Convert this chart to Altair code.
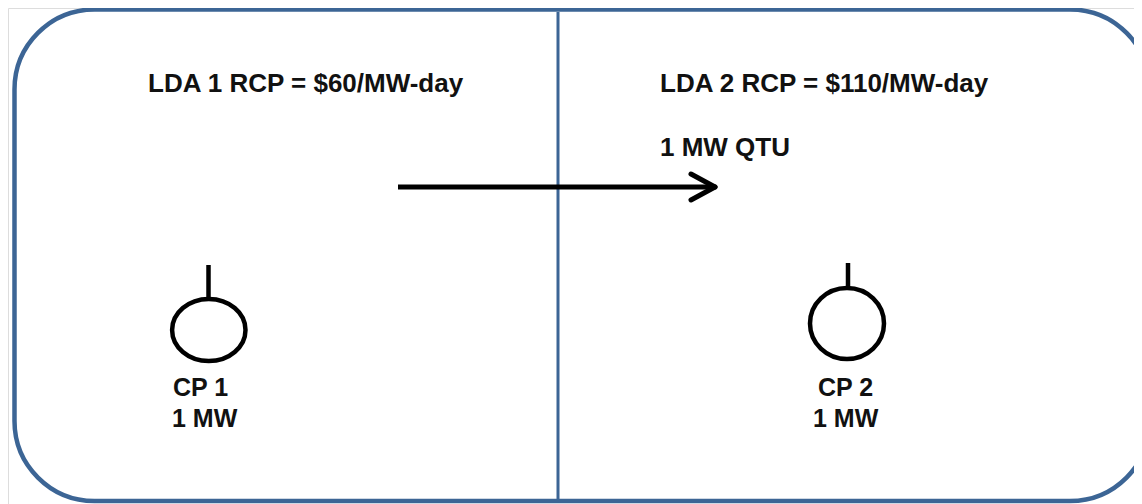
import altair as alt
import pandas as pd

# ---- diagram content (picture coordinates, px) ----
border_x = [14.5, 1150]
border_y = [9.5, 501]

divider_x = [558]
divider_y = [12, 500]

arrow_shaft_x = [398, 713]
arrow_shaft_y = [187]
arrow_tip = [715, 187]
arrow_arm_x = [691, 691]
arrow_arm_y = [174, 200]

node_cx = [208.8, 847]
node_cy = [330, 323.5]
node_rx = [36.7, 37]
node_ry = [31, 35.5]
stick_x = [208.5, 848]
stick_top = [265, 263]
stick_bottom = [299, 288]

labels = ["LDA 1 RCP = $60/MW-day", "LDA 2 RCP = $110/MW-day", "1 MW QTU",
          "CP 1", "1 MW", "CP 2", "1 MW"]
label_x = [148, 660, 660, 173, 172, 818, 813]
label_y = [92, 92, 156, 396, 427, 396, 427]
label_size = [26, 26, 26, 25, 25, 25, 25]

BLUE = "#3C6595"
INK = "#111111"
W, H = 1126, 496

xs = alt.Scale(domain=[8, 8 + W], nice=False, zero=False)
ys = alt.Scale(domain=[8, 8 + H], nice=False, zero=False, reverse=True)

def X(f):
    return alt.X(f, type="quantitative", scale=xs, axis=None)

def Y(f):
    return alt.Y(f, type="quantitative", scale=ys, axis=None)

border = alt.Chart(pd.DataFrame({"x1": [border_x[0]], "x2": [border_x[1]],
                                 "y1": [border_y[0]], "y2": [border_y[1]]})).mark_rect(
    cornerRadius=80, fillOpacity=0, stroke=BLUE, strokeWidth=4.5
).encode(x=X("x1"), x2="x2", y=Y("y1"), y2="y2")

divider = alt.Chart(pd.DataFrame({"x": divider_x, "y1": [divider_y[0]], "y2": [divider_y[1]]})).mark_rule(
    color=BLUE, strokeWidth=3
).encode(x=X("x"), y=Y("y1"), y2="y2")

shaft = alt.Chart(pd.DataFrame({"x1": [arrow_shaft_x[0]], "x2": [arrow_shaft_x[1]], "y": arrow_shaft_y})).mark_rule(
    color="#000000", strokeWidth=5
).encode(x=X("x1"), x2="x2", y=Y("y"))

arms = alt.Chart(pd.DataFrame({"x1": arrow_arm_x, "y1": arrow_arm_y,
                               "x2": [arrow_tip[0]] * 2, "y2": [arrow_tip[1]] * 2})).mark_rule(
    color="#000000", strokeWidth=5, strokeCap="round"
).encode(x=X("x1"), y=Y("y1"), x2="x2", y2="y2")

sticks = alt.Chart(pd.DataFrame({"x": stick_x, "y1": stick_top, "y2": stick_bottom})).mark_rule(
    color="#000000", strokeWidth=4.5
).encode(x=X("x"), y=Y("y1"), y2="y2")

def ellipse_path(k):
    c = 0.5523
    return (f"M-1,0 C-1,{-c*k:.4f} {-c:.4f},{-k:.4f} 0,{-k:.4f} "
            f"C{c:.4f},{-k:.4f} 1,{-c*k:.4f} 1,0 "
            f"C1,{c*k:.4f} {c:.4f},{k:.4f} 0,{k:.4f} "
            f"C{-c:.4f},{k:.4f} -1,{c*k:.4f} -1,0 Z")

node_layers = []
for cx, cy, rx, ry in zip(node_cx, node_cy, node_rx, node_ry):
    node_layers.append(
        alt.Chart(pd.DataFrame({"x": [cx], "y": [cy]})).mark_point(
            shape=ellipse_path(ry / rx), size=(2 * rx) ** 2, filled=False,
            stroke="#000000", strokeWidth=4.5, opacity=1
        ).encode(x=X("x"), y=Y("y"))
    )

text_df = pd.DataFrame({"label": labels, "x": label_x, "y": label_y, "size": label_size})
texts = alt.Chart(text_df).mark_text(
    align="left", baseline="alphabetic", font="Liberation Sans", fontWeight="bold", color=INK
).encode(x=X("x"), y=Y("y"), text="label:N",
         size=alt.Size("size:Q", scale=None, legend=None))

chart = alt.layer(border, divider, shaft, arms, sticks, *node_layers, texts).properties(
    width=W, height=H, padding=0, autosize=alt.AutoSizeParams(type="none")
).configure_view(stroke=None).configure(background="white")

chart.save("out.html", embed_options={"renderer": "svg", "actions": False})
